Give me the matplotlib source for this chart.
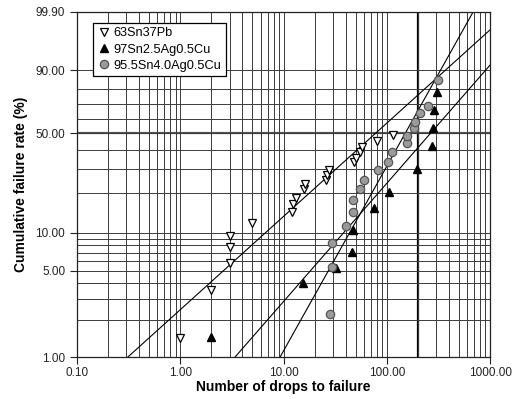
import numpy as np
import matplotlib
matplotlib.use("Agg")
import matplotlib.pyplot as plt
import matplotlib.ticker as mtick

plt.rcParams['font.family'] = ['Liberation Sans', 'DejaVu Sans']

# drops to failure / cumulative failure rate (%)
snpb_drops = [1, 2, 3, 3, 3, 5, 12, 12.4, 13.2, 15.8, 16.2, 25.8, 26.4, 27.6,
              48.2, 50.4, 55.1, 57.6, 80.5, 115]
snpb_rate = [1.43, 3.5, 5.8, 7.75, 9.5, 11.9, 14.5, 16.6, 18.5, 21.5, 23.4,
             24.9, 27.0, 29.3, 33.2, 35.3, 38.6, 41.5, 45.1, 49.0]

sac25_drops = [2, 15.5, 32, 46, 47, 75, 105, 196, 274, 280, 286, 307]
sac25_rate = [1.46, 4.0, 5.3, 7.1, 10.5, 15.5, 20.4, 29.8, 42.1, 53.6, 66.0, 78.1]

sac40_drops = [28.2, 29.5, 29.5, 40.3, 47.1, 47.1, 55.1, 60.2, 82.3, 102.8,
               112.4, 157, 157, 183.6, 187.7, 210, 251, 314]
sac40_rate = [2.24, 5.37, 8.33, 11.3, 14.5, 17.8, 21.5, 24.9, 29.3, 33.2,
              38.6, 43.9, 48.3, 53.6, 57.7, 64.0, 68.8, 85.1]

# weibull fit lines (shape beta, scale eta)
snpb_fit = (0.767, 125.0)
sac25_fit = (0.972, 385.0)
sac40_fit = (1.518, 191.6)

y_ticks = [1, 5, 10, 50, 90, 99.9]
y_minor = [2, 3, 4, 6, 7, 8, 9, 20, 30, 40, 60, 70, 80]
x_ticks = [0.1, 1, 10, 100, 1000]


def fwd(p):
    p = np.clip(np.asarray(p, dtype=float), 1e-6, 100 - 1e-6)
    return np.log(-np.log(1 - p / 100.0))


def inv(w):
    return 100.0 * (1 - np.exp(-np.exp(w)))


def fit_line(beta, eta):
    # only the part that is inside the plot
    lo = max(0.1, eta * (-np.log(0.99)) ** (1 / beta))
    hi = min(1000, eta * (-np.log(0.001)) ** (1 / beta))
    x = np.geomspace(lo, hi, 200)
    return x, 100 * (1 - np.exp(-(x / eta) ** beta))


fig = plt.figure(figsize=(5.27, 3.99), dpi=100)
ax = fig.add_axes([0.146, 0.105, 0.784, 0.865])

ax.set_xscale('log')
ax.set_yscale('function', functions=(fwd, inv))
ax.set_xlim(0.1, 1000)
ax.set_ylim(1, 99.9)

ax.set_xticks(x_ticks)
ax.set_xticklabels(['%.2f' % v for v in x_ticks])
ax.xaxis.set_minor_locator(mtick.LogLocator(base=10, subs=np.arange(2, 10)))
ax.xaxis.set_minor_formatter(mtick.NullFormatter())
ax.set_yticks(y_ticks)
ax.set_yticklabels(['%.2f' % v for v in y_ticks])
ax.set_yticks(y_minor, minor=True)
ax.yaxis.set_minor_formatter(mtick.NullFormatter())

ax.grid(True, which='both', color='#3a3a3a', lw=0.7)
ax.tick_params(which='major', direction='out', length=5, width=0.8, labelsize=8.5,
               colors='#222222')
ax.tick_params(axis='x', which='major', pad=2)
ax.tick_params(which='minor', length=0)
# heavier reference lines
ax.axvline(200, color='black', lw=1.6, zorder=1)
ax.axhline(50, color='#555555', lw=1.6, zorder=1)

for beta, eta in [snpb_fit, sac25_fit, sac40_fit]:
    fx, fy = fit_line(beta, eta)
    ax.plot(fx, fy, color='black', lw=0.8, zorder=2)

ax.plot(snpb_drops, snpb_rate, 'v', ms=6.3, mfc='white', mec='black', mew=0.9,
        ls='none', label='63Sn37Pb', zorder=3)
ax.plot(sac25_drops, sac25_rate, '^', ms=5.8, mfc='black', mec='black',
        ls='none', label='97Sn2.5Ag0.5Cu', zorder=3)
ax.plot(sac40_drops, sac40_rate, 'o', ms=6, mfc='#9a9a9a', mec='#555555',
        mew=0.9, ls='none', label='95.5Sn4.0Ag0.5Cu', zorder=3)

leg = ax.legend(loc='upper left', bbox_to_anchor=(0.038, 0.968), fontsize=9.2,
                frameon=True, fancybox=False, framealpha=1, edgecolor='black',
                handletextpad=0.3, handlelength=1.0, borderpad=0.35,
                labelspacing=0.32, borderaxespad=0)
leg.get_frame().set_linewidth(0.9)

ax.set_xlabel('Number of drops to failure', fontsize=10, fontweight='bold', labelpad=1)
ax.set_ylabel('Cumulative failure rate (%)', fontsize=10, fontweight='bold', labelpad=5)

for s in ax.spines.values():
    s.set_color('#222222')
    s.set_linewidth(0.9)

fig.savefig('out.png', dpi=100)
